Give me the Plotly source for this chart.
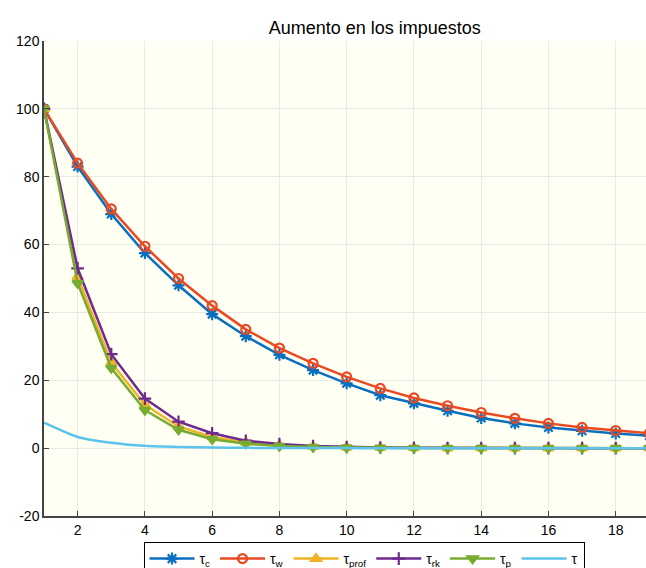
import plotly.graph_objects as go

periods = list(range(1, 20))

tau_c = [100, 83, 69, 57.5, 48, 39.5, 33, 27.5, 23, 19.1, 15.6, 13.2, 11.0, 8.9, 7.3, 6.1, 5.1, 4.3, 3.7]
tau_w = [100, 84, 70.5, 59.5, 50, 42, 35, 29.5, 25.0, 21.0, 17.6, 14.8, 12.5, 10.5, 8.8, 7.3, 6.1, 5.2, 4.4]
tau_prof = [100, 50.5, 25.2, 12.8, 6.4, 3.3, 1.7, 0.85, 0.43, 0.22, 0.11, 0.06, 0.03, 0.02, 0.01, 0.0, 0.0, 0.0, 0.0]
tau_rk = [100, 53, 27.7, 14.6, 7.8, 4.4, 2.2, 1.2, 0.65, 0.35, 0.18, 0.1, 0.05, 0.03, 0.02, 0.01, 0.0, 0.0, 0.0]
tau_p = [100, 48.6, 23.6, 11.2, 5.4, 2.6, 1.3, 0.6, 0.3, 0.15, 0.07, 0.03, 0.02, 0.01, 0.0, 0.0, 0.0, 0.0, 0.0]
tau = [7.5, 3.3, 1.6, 0.7, 0.35, 0.16, 0.08, 0.04, 0.02, 0.01, 0.0, 0.0, 0.0, 0.0, 0.0, 0.0, 0.0, 0.0, 0.0]

x_ticks = [2, 4, 6, 8, 10, 12, 14, 16, 18]
y_ticks = [-20, 0, 20, 40, 60, 80, 100, 120]

FONT = "Liberation Sans, Arial, Helvetica, sans-serif"

series = [
    ("τ<sub>c</sub>", tau_c, "#0b6fc0", "asterisk-open", 10),
    ("τ<sub>w</sub>", tau_w, "#ea4a22", "circle-open", 9),
    ("τ<sub>prof</sub>", tau_prof, "#f0b323", "triangle-up", 9),
    ("τ<sub>rk</sub>", tau_rk, "#6e2a8c", "cross-thin-open", 9),
    ("τ<sub>p</sub>", tau_p, "#77ac30", "triangle-down", 9),
]

fig = go.Figure()
for name, vals, color, symbol, size in series:
    fig.add_trace(go.Scatter(
        x=periods, y=vals, name=name, mode="lines+markers",
        line=dict(color=color, width=2.5),
        marker=dict(symbol=symbol, size=size, color=color,
                    line=dict(color=color, width=2.2)),
    ))

fig.add_trace(go.Scatter(
    x=periods, y=tau, name="τ", mode="lines",
    line=dict(color="#5cc3ec", width=2.5, shape="spline", smoothing=0.6),
))

fig.update_layout(
    width=646, height=568,
    margin=dict(l=44, r=0, t=41, b=52),
    paper_bgcolor="white",
    plot_bgcolor="#fffff4",
    font=dict(family=FONT, size=14, color="black"),
    title=dict(text="Aumento en los impuestos", x=355 / 646, xanchor="center",
               xref="paper", y=1 - 28 / 568, yanchor="middle",
               font=dict(family=FONT, size=18, color="black")),
    showlegend=True,
    legend=dict(
        orientation="h", xref="container", x=364 / 646, xanchor="center",
        yref="container", y=(568 - 542) / 568, yanchor="top",
        bgcolor="white", bordercolor="black", borderwidth=1,
        font=dict(family=FONT, size=14, color="black"),
        itemwidth=45, tracegroupgap=0,
    ),
)

fig.update_xaxes(
    range=[1, 18.9], tickvals=x_ticks, ticktext=[str(v) for v in x_ticks],
    showgrid=True, gridcolor="#ebe8e8", gridwidth=1,
    showline=True, linecolor="#444444", linewidth=1.5,
    ticks="inside", ticklen=5, tickcolor="#444444",
    zeroline=False, mirror=False,
)
fig.update_yaxes(
    range=[-20, 120], tickvals=y_ticks, ticktext=[str(v) for v in y_ticks],
    showgrid=True, gridcolor="#ebe8e8", gridwidth=1,
    showline=True, linecolor="#444444", linewidth=1.5,
    ticks="inside", ticklen=5, tickcolor="#444444",
    zeroline=False, mirror=False,
)

fig.write_html("out.html")
